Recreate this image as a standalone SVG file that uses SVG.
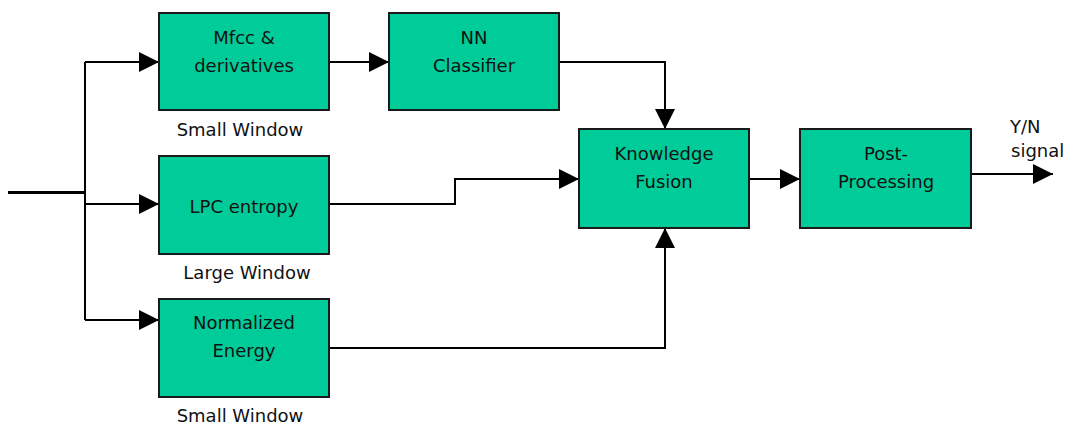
<svg xmlns="http://www.w3.org/2000/svg" width="1068" height="426" viewBox="0 0 1068 426">
<defs>
<style>
.box{fill:#00CC99;stroke:#1a1a1a;stroke-width:2}
.t{font-family:"DejaVu Sans",sans-serif;font-size:18px;fill:#111;text-anchor:middle}
.tl{font-family:"DejaVu Sans",sans-serif;font-size:18px;fill:#111}
.c{fill:none;stroke:#000;stroke-width:2}
</style>
<marker id="ah" markerUnits="userSpaceOnUse" markerWidth="20" markerHeight="20" refX="20" refY="10" orient="auto" viewBox="0 0 20 20">
<path d="M0,0 L20,10 L0,20 z" fill="#000"/>
</marker>
</defs>
<rect width="1068" height="426" fill="#fff"/>
<g id="connectors">
<path class="c" d="M8,192.5 H85" style="stroke-width:3"/>
<path class="c" d="M85,62 V320"/>
<path class="c" d="M85,62 H159" marker-end="url(#ah)"/>
<path class="c" d="M85,204 H159" marker-end="url(#ah)"/>
<path class="c" d="M85,320 H159" marker-end="url(#ah)"/>
<path class="c" d="M329,62 H389" marker-end="url(#ah)"/>
<path class="c" d="M559,62 H665 V129" marker-end="url(#ah)"/>
<path class="c" d="M329,204 H455 V179 H579" marker-end="url(#ah)"/>
<path class="c" d="M329,348 H665 V228" marker-end="url(#ah)"/>
<path class="c" d="M749,179 H800" marker-end="url(#ah)"/>
<path class="c" d="M971,174 H1053" marker-end="url(#ah)"/>
</g>
<g id="mfcc">
<rect class="box" x="159" y="13" width="170" height="97"/>
<text class="t" x="244" y="44">Mfcc &amp;</text>
<text class="t" x="244" y="72">derivatives</text>
</g>
<g id="nn">
<rect class="box" x="389" y="13" width="170" height="97"/>
<text class="t" x="474" y="44">NN</text>
<text class="t" x="474" y="72">Classifier</text>
</g>
<g id="lpc">
<rect class="box" x="159" y="156" width="170" height="98"/>
<text class="t" x="244" y="213">LPC entropy</text>
</g>
<g id="energy">
<rect class="box" x="159" y="299" width="170" height="98"/>
<text class="t" x="244" y="329">Normalized</text>
<text class="t" x="244" y="357">Energy</text>
</g>
<g id="fusion">
<rect class="box" x="579" y="129" width="170" height="99"/>
<text class="t" x="664" y="160">Knowledge</text>
<text class="t" x="664" y="188">Fusion</text>
</g>
<g id="post">
<rect class="box" x="800" y="129" width="171" height="99"/>
<text class="t" x="886" y="160">Post-</text>
<text class="t" x="886" y="188">Processing</text>
</g>
<g id="labels">
<text class="t" x="240" y="136">Small Window</text>
<text class="t" x="247" y="279">Large Window</text>
<text class="t" x="240" y="422">Small Window</text>
<text class="tl" x="1010" y="133">Y/N</text>
<text class="tl" x="1011" y="157">signal</text>
</g>
</svg>
